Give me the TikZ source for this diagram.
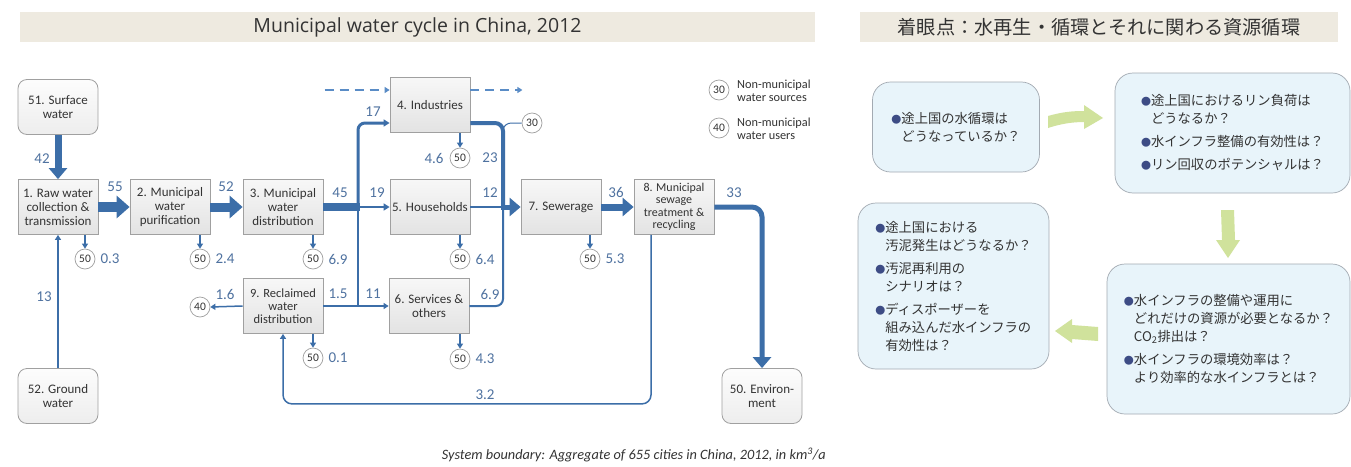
\documentclass[tikz,border=0pt]{standalone}
\usepackage{fontspec}
\setmainfont{Carlito}
\newfontfamily\jp{Noto Sans CJK JP}
\newfontfamily\ttlfont{Open Sans}
\usetikzlibrary{arrows.meta,calc}
\definecolor{flow}{HTML}{3C6EA8}
\definecolor{numc}{HTML}{4F72A0}
\definecolor{txt}{HTML}{333333}
\definecolor{bar}{HTML}{EEEAE0}
\definecolor{boxline}{HTML}{A0A0A0}
\definecolor{qfill}{HTML}{E8F4FA}
\definecolor{qline}{HTML}{A3AAB2}
\definecolor{garrow}{HTML}{D0E29C}
\definecolor{bulc}{HTML}{3D4C85}
\definecolor{dashc}{HTML}{5A8CC6}
\newcommand{\bul}{{\color{bulc}\fontsize{10}{10}\selectfont ●}}
\newcommand{\ind}{\phantom{\bul}}
\begin{document}
\begin{tikzpicture}[x=1pt,y=-1pt,
  proc/.style={draw=boxline, line width=0.8pt, top color=gray!6, bottom color=gray!22,
    minimum width=80pt, minimum height=55pt, align=center,
    font=\fontsize{13}{14}\selectfont, text=txt, inner sep=1pt},
  term/.style={proc, rounded corners=9pt, top color=gray!2, bottom color=gray!14},
  circ/.style={circle, draw=gray!75, line width=0.7pt, fill=white, minimum size=20pt,
    inner sep=0pt, font=\fontsize{11.5}{12}\selectfont, text=txt},
  numl/.style={text=numc, font=\fontsize{15}{16}\selectfont, inner sep=0pt},
  fl/.style={draw=flow},
  bigtip/.style={-{Triangle[length=13pt,width=22pt]}},
  midtip/.style={-{Triangle[length=11pt,width=18pt]}},
  smalltip/.style={-{Triangle[length=6pt,width=7pt]}},
  tinytip/.style={-{Triangle[length=5pt,width=6pt]}},
  qbox/.style={draw=qline, line width=0.7pt, fill=qfill, rounded corners=18pt,
    align=left, text=txt, font=\jp\fontsize{13.3}{18}\selectfont},
  gar/.style={fill=garrow},
  titlebar/.style={fill=bar, minimum height=30pt, inner sep=0pt}
]
\useasboundingbox (0,0) rectangle (1351,466);
\fill[white] (0,0) rectangle (1351,466);

% title bars
\node[titlebar, minimum width=795pt, font=\ttlfont\fontsize{19.5}{20}\selectfont, text=txt]
  (t1) at (417.5,27) {Municipal water cycle in China, 2012};
\node[titlebar, minimum width=478pt, font=\jp\fontsize{19.2}{20}\selectfont, text=txt]
  (t2) at (1099,27) {着眼点：水再生・循環とそれに関わる資源循環};

% ---------- left diagram: nodes ----------
\node[term] (s51) at (58,107) {51. Surface\\water};
\node[proc] (n1) at (58,207) {1. Raw water\\collection \&\\transmission};
\node[proc] (n2) at (170,207) {2. Municipal\\water\\purification};
\node[proc] (n3) at (283,207) {3. Municipal\\water\\distribution};
\node[proc] (n4) at (430,105) {4. Industries};
\node[proc] (n5) at (430,207) {5. Households};
\node[proc] (n6) at (429,306) {6. Services \&\\others};
\node[proc] (n7) at (561,207) {7. Sewerage};
\node[proc, font=\fontsize{12}{12.5}\selectfont] (n8) at (674,207) {8. Municipal\\sewage\\treatment \&\\recycling};
\node[proc, font=\fontsize{12.5}{13}\selectfont] (n9) at (283,306) {9. Reclaimed\\water\\distribution};
\node[term] (s52) at (58,396) {52. Ground\\water};
\node[term] (e50) at (762,396) {50. Environ-\\ment};

% circles
\node[circ] (c1) at (85,259) {50};
\node[circ] (c2) at (200,259) {50};
\node[circ] (c3) at (313,259) {50};
\node[circ] (c4) at (460,158) {50};
\node[circ] (c5) at (460,259) {50};
\node[circ] (c6) at (460,359) {50};
\node[circ] (c7) at (590,259) {50};
\node[circ] (c9) at (313,358) {50};
\node[circ] (c40) at (200,307) {40};
\node[circ] (c30) at (532,123) {30};

% legend
\node[circ] (l30) at (719,90) {30};
\node[anchor=west, align=left, text=txt, font=\fontsize{12.3}{12.5}\selectfont, inner sep=0pt] (lt30) at (737,91) {Non-municipal\\water sources};
\node[circ] (l40) at (719,128) {40};
\node[anchor=west, align=left, text=txt, font=\fontsize{12.3}{12.5}\selectfont, inner sep=0pt] (lt40) at (737,129) {Non-municipal\\water users};

% junctions
\coordinate (j) at (358,207);
\coordinate (k) at (358,306);
\coordinate (m) at (503,207);

% ---------- connectors ----------
\draw[fl, line width=7pt, midtip] (s51) -- (n1);
\draw[fl, line width=10pt, bigtip] (n1) -- (n2);
\draw[fl, line width=9pt, bigtip] (n2) -- (n3);
\draw[fl, line width=8pt] (n3.east) -- ([xshift=1.5pt]j);
\draw[fl, line width=3pt, rounded corners=7pt, smalltip] ([yshift=-3pt]j) |- ([yshift=-18pt]n4.west);
\draw[fl, line width=2.5pt, smalltip] (j) -- (n5.west);
\draw[fl, line width=2pt] (j) -- (k);
\draw[fl, line width=1.5pt, tinytip] (n9.east) -- (n6.west);
\draw[fl, line width=1.5pt, tinytip] (n9.west) -- (c40.east);
\draw[fl, line width=2pt, tinytip] (s52) -- (n1);
% to sewerage
\draw[fl, line width=4pt, rounded corners=8pt] ([yshift=-18pt]n4.east) -| (m);
\draw[fl, line width=2pt, rounded corners=7pt] (n6.east) -| (m);
\draw[fl, line width=1.5pt] (n5.east) -- (m);
\draw[fl, line width=5pt, midtip] ([xshift=-2pt]m) -- (n7.west);
\draw[fl, line width=1pt] (c30.west) -- ++(-10,0) to[out=180,in=70] ([yshift=-6pt]m |- c30);
\draw[fl, line width=7pt, midtip] (n7) -- (n8);
\draw[fl, line width=5pt, rounded corners=10pt, midtip] (n8.east) -| (e50.north);
\draw[fl, line width=1.5pt, rounded corners=9pt, tinytip] ([xshift=-23pt]n8.south) |- ($(n9.south)+(0,70)$) -- (n9.south);
% dashed non-municipal
\draw[dashc, line width=1.2pt, dash pattern=on 9pt off 6pt, tinytip] ($(n4.west)+(-65,-15)$) -- ([yshift=15pt]n4.west);
\draw[dashc, line width=1.2pt, dash pattern=on 9pt off 6pt, tinytip] ([yshift=15pt]n4.east) -- ($(n4.east)+(52,-15)$);
% losses
\foreach \b/\c in {n1/c1,n2/c2,n3/c3,n4/c4,n5/c5,n6/c6,n7/c7,n9/c9}
  \draw[fl, line width=1.3pt, tinytip] (\b.south -| \c) -- (\c.north);

% ---------- numbers ----------
\node[numl] (v42) at (42,159) {42};
\node[numl] (v55) at (115,187) {55};
\node[numl] (v52) at (226,187) {52};
\node[numl] (v45) at (340,193) {45};
\node[numl] (v17) at (373,112) {17};
\node[numl] (v19) at (377,193) {19};
\node[numl] (v12) at (490,193) {12};
\node[numl] (v23) at (490,158) {23};
\node[numl] (v46) at (434,158) {4.6};
\node[numl] (v36) at (616,192) {36};
\node[numl] (v33) at (734,193) {33};
\node[numl] (v13) at (44,297) {13};
\node[numl] (v16) at (225,294) {1.6};
\node[numl] (v15) at (338,294) {1.5};
\node[numl] (v11) at (373,294) {11};
\node[numl] (v69b) at (490,294) {6.9};
\node[numl] (v32) at (485,395) {3.2};
\node[numl] (v03) at (110,259) {0.3};
\node[numl] (v24) at (225,259) {2.4};
\node[numl] (v69) at (338,259) {6.9};
\node[numl] (v64) at (485,259) {6.4};
\node[numl] (v43) at (485,359) {4.3};
\node[numl] (v53) at (615,259) {5.3};
\node[numl] (v01) at (338,358) {0.1};

\node[anchor=east, text=txt, font=\itshape\fontsize{14.3}{15}\selectfont, inner sep=0pt] (cap) at (826,455)
  {System boundary: Aggregate of 655 cities in China, 2012, in km\textsuperscript{3}/a};

% ---------- right panel ----------
\node[qbox, minimum width=167pt, minimum height=90pt] (qa) at (956,127)
  {\bul 途上国の水循環は\\\ind どうなっているか？};
\node[qbox, minimum width=235pt, minimum height=120pt] (qb) at (1232.5,133)
  {\bul 途上国におけるリン負荷は\\\ind どうなるか？\\[5pt]\bul 水インフラ整備の有効性は？\\[5pt]\bul リン回収のポテンシャルは？};
\node[qbox, minimum width=243pt, minimum height=150pt] (qc) at (1228.5,339)
  {\bul 水インフラの整備や運用に\\\ind どれだけの資源が必要となるか？\\\ind CO\textsubscript{2}排出は？\\[5pt]\bul 水インフラの環境効率は？\\\ind より効率的な水インフラとは？};
\node[qbox, minimum width=191pt, minimum height=166pt] (qd) at (953.5,286)
  {\bul 途上国における\\\ind 汚泥発生はどうなるか？\\[5pt]\bul 汚泥再利用の\\\ind シナリオは？\\[5pt]\bul ディスポーザーを\\\ind 組み込んだ水インフラの\\\ind 有効性は？};

% green block arrows
\fill[gar] (1048,116) .. controls (1062,112) and (1072,111) .. (1084,111) -- (1084,105) -- (1103,118) -- (1084,129) -- (1084,122) .. controls (1072,122) and (1060,124) .. (1048,128) -- cycle;
\fill[gar] (1221,210) -- (1234,210) -- (1235,240) -- (1240,240) -- (1228,258) -- (1216,240) -- (1222,240) -- cycle;
\fill[gar] (1098,327) -- (1072,325) -- (1072,319) -- (1055,331) -- (1072,343) -- (1072,339) -- (1098,341) -- cycle;
\end{tikzpicture}
\end{document}
